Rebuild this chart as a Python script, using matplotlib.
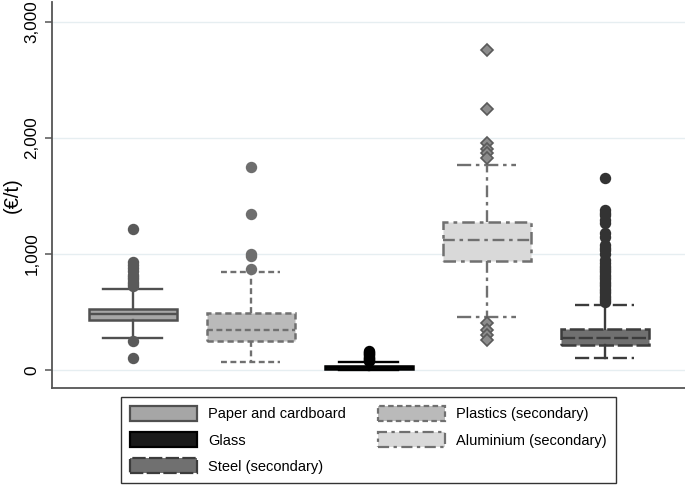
import matplotlib
matplotlib.use("Agg")
import matplotlib.pyplot as plt
from matplotlib.patches import Patch

plt.rcParams['font.family'] = ['Liberation Sans', 'DejaVu Sans']

categories = ["Paper and cardboard", "Plastics (secondary)", "Glass",
              "Aluminium (secondary)", "Steel (secondary)"]
q1 = [430, 250, 10, 937, 215]
median = [481, 344, 24, 1118, 275]
q3 = [524, 490, 35, 1273, 352]
whisker_low = [275, 69, 0, 456, 103]
whisker_high = [696, 843, 70, 1763, 559]
outliers = [
    [1212, 930, 905, 880, 850, 820, 800, 780, 760, 740, 720, 249, 103],
    [1746, 1341, 997, 980, 868],
    [75, 85, 95, 105, 115, 125, 135, 145, 155, 165],
    [2760, 2244, 1952, 1900, 1866, 1823, 404, 344, 301, 258],
    [1651, 1376, 1355, 1333, 1290, 1264, 1178, 1150, 1075, 1050, 1032, 1000,
     946, 920, 900, 880, 860, 840, 820, 800, 780, 760, 740, 720, 700, 680,
     660, 640, 620, 600, 585],
]
yticks = [0, 1000, 2000, 3000]
ytick_labels = ["0", "1,000", "2,000", "3,000"]

fills = ["#a6a6a6", "#bababa", "#1a1a1a", "#d9d9d9", "#707070"]
edges = ["#505050", "#707070", "#000000", "#707070", "#3c3c3c"]
box_ls = ["-", (0, (2.5, 1.5)), "-", (0, (5, 2, 1.5, 2)), (0, (6, 1.5))]
whisk_ls = ["-", (0, (2.5, 1.5)), "-", (0, (5, 2, 1.5, 2)), "-"]
cap_ls = ["-", (0, (2.5, 1.5)), "-", (0, (6, 2, 1.5, 2)), (0, (6, 2))]
flier_marker = ["o", "o", "o", "D", "o"]
flier_face = ["#5a5a5a", "#6e6e6e", "#000000", "#8c8c8c", "#333333"]
flier_edge = ["#5a5a5a", "#6e6e6e", "#000000", "#5a5a5a", "#333333"]
flier_size = [7, 7, 7, 6, 7]

fig = plt.figure(figsize=(6.85, 4.86), dpi=100)
ax = fig.add_axes([52 / 685, (486 - 388) / 486, (685 - 52) / 685, 386 / 486])

for i in range(len(categories)):
    st = dict(q1=q1[i], med=median[i], q3=q3[i], whislo=whisker_low[i],
              whishi=whisker_high[i], fliers=outliers[i], label=categories[i])
    ax.bxp([st], positions=[i + 1], widths=0.75, patch_artist=True,
           showfliers=True, capwidths=[0.5],
           boxprops=dict(facecolor=fills[i], edgecolor=edges[i],
                         linestyle=box_ls[i], linewidth=1.8),
           medianprops=dict(color=edges[i], linestyle=box_ls[i], linewidth=1.7),
           whiskerprops=dict(color=edges[i], linestyle=whisk_ls[i], linewidth=1.7),
           capprops=dict(color=edges[i], linestyle=cap_ls[i], linewidth=1.7),
           flierprops=dict(marker=flier_marker[i], markerfacecolor=flier_face[i],
                           markeredgecolor=flier_edge[i], markersize=flier_size[i],
                           markeredgewidth=1.2, linestyle="none"),
           zorder=3)

ax.set_xlim(0.314, 5.678)
ax.set_ylim(-155, 3170)
ax.set_yticks(yticks)
ax.set_yticklabels(ytick_labels, rotation=90, va="center", fontsize=12.3)
ax.set_xticks([])
ax.grid(axis="y", color="#e6eef1", linewidth=1, zorder=0)
ax.set_axisbelow(True)
for s in ["top", "right"]:
    ax.spines[s].set_visible(False)
for s in ["left", "bottom"]:
    ax.spines[s].set_color("#555555")
    ax.spines[s].set_linewidth(1.3)
ax.tick_params(axis="y", length=5, width=1.1, color="#555555", pad=4)
ax.set_ylabel("(€/t)", fontsize=14.5)
ax.yaxis.set_label_coords(-0.047, 0.5)

order = [0, 2, 4, 1, 3]
handles = [Patch(facecolor=fills[i], edgecolor=edges[i], linestyle=box_ls[i],
                 linewidth=1.6, label=categories[i]) for i in order]
leg = fig.legend(handles=handles, loc="lower center",
                 bbox_to_anchor=(368.5 / 685, -0.008), ncol=2, fontsize=10.5,
                 frameon=True, fancybox=False, edgecolor="black",
                 handlelength=4.6, handleheight=1.2, handletextpad=0.75,
                 columnspacing=2.2, labelspacing=0.75, borderpad=0.6)
leg.get_frame().set_linewidth(1.0)

fig.savefig("out.png", dpi=100)
